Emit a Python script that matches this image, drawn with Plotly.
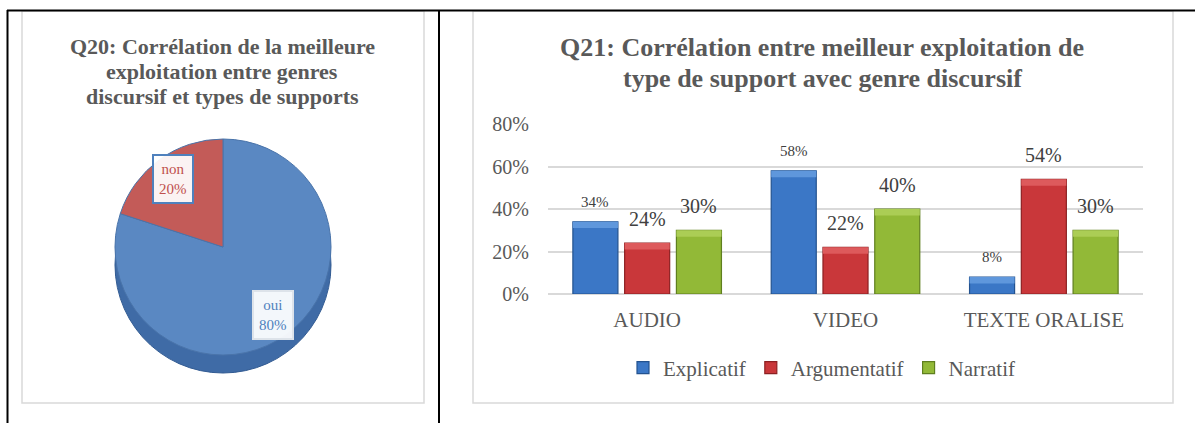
import math
import plotly.graph_objects as go

# ---------------- data ----------------
pie_labels = ["oui", "non"]
pie_values = [80, 20]

categories = ["AUDIO", "VIDEO", "TEXTE ORALISE"]
series_names = ["Explicatif", "Argumentatif", "Narratif"]
explicatif = [0.34, 0.58, 0.08]
argumentatif = [0.24, 0.22, 0.54]
narratif = [0.30, 0.40, 0.30]

y_ticks = [0, 0.2, 0.4, 0.6, 0.8]
y_tick_labels = ["0%", "20%", "40%", "60%", "80%"]

title_left = ["Q20: Corrélation de la meilleure", "exploitation entre genres", "discursif et types de supports"]
title_right = ["Q21: Corrélation entre meilleur exploitation de", "type de support avec genre discursif"]

# ---------------- layout constants ----------------
W, H = 1195, 423
FONT = "Liberation Serif, Times New Roman, serif"
GREY_TXT = "#595959"


def px(x):
    return x / W


def py(y):
    return 1 - y / H


bar_colors = ["#3B77C6", "#C9373A", "#92B937"]
bar_caps = ["#5F97DC", "#DD5A5C", "#ABCD55"]
bar_lines = ["#23528F", "#8C2022", "#5F7F1F"]
label_sizes = [15, 20, 20]
label_shift = [20, 24, 24]

pie_colors = ["#5A88C2", "#C35B58"]
pie_side_colors = ["#3F6BA6", "#9E3F3D"]

fig = go.Figure()

# ---------------- pie (left) ----------------
cx, cy, r, depth = 223, 247, 108, 18
fig.add_trace(go.Pie(
    labels=pie_labels, values=pie_values, sort=False, direction="clockwise",
    rotation=0, textinfo="none", hoverinfo="skip", showlegend=False,
    marker=dict(colors=pie_side_colors, line=dict(color="#335C93", width=1)),
    domain=dict(x=[px(cx - r), px(cx + r)], y=[py(cy + depth + r), py(cy + depth - r)]),
))
fig.add_trace(go.Pie(
    labels=pie_labels, values=pie_values, sort=False, direction="clockwise",
    rotation=0, textinfo="none", showlegend=False,
    marker=dict(colors=pie_colors, line=dict(color="#4A74AA", width=1)),
    domain=dict(x=[px(cx - r), px(cx + r)], y=[py(cy + r), py(cy - r)]),
))

annotations = []
# pie labels at mid-angle of each slice
total = sum(pie_values)
start = 0.0
pie_txt_colors = ["#4F81BD", "#C0504D"]
pie_box_borders = ["#DDE3EA", "#4F81BD"]
for lab, val, tc, bc in zip(pie_labels, pie_values, pie_txt_colors, pie_box_borders):
    mid = (start + val / 2) / total * 2 * math.pi
    start += val
    lx = cx + 0.78 * r * math.sin(mid)
    ly = cy - 0.78 * r * math.cos(mid)
    annotations.append(dict(
        x=px(lx), y=py(ly), xref="paper", yref="paper", showarrow=False,
        xanchor="center", yanchor="middle",
        text=f"{lab}<br>{round(val / total * 100)}%",
        font=dict(family=FONT, size=15, color=tc),
        bgcolor="rgba(255,255,255,0.93)", bordercolor=bc, borderwidth=2, borderpad=5,
    ))

# ---------------- bars (right) ----------------
x0, x1 = 548, 1143
y0, y1 = 294, 124
bargap = 0.217
bargroupgap = 0.13
cap = 0.03

all_series = [explicatif, argumentatif, narratif]
for i, (name, vals, col, lc) in enumerate(zip(series_names, all_series, bar_colors, bar_lines)):
    fig.add_trace(go.Bar(
        x=categories, y=vals, name=name, offsetgroup=str(i),
        marker=dict(color=col, line=dict(color=lc, width=1.2)),
        xaxis="x", yaxis="y", hoverinfo="name+y",
    ))
# lighter top bevel on each bar
for i, (name, vals, cc) in enumerate(zip(series_names, all_series, bar_caps)):
    fig.add_trace(go.Bar(
        x=categories, y=[cap] * len(vals), base=[v - cap for v in vals], name=name,
        offsetgroup=str(i), showlegend=False, hoverinfo="skip",
        marker=dict(color=cc, line=dict(width=0)),
        xaxis="x", yaxis="y",
    ))

cat_px = (x1 - x0) / len(categories)
slot_px = cat_px * (1 - bargap) / len(series_names)
for si, vals in enumerate(all_series):
    offset = (si - (len(series_names) - 1) / 2) * slot_px
    for cat, v in zip(categories, vals):
        annotations.append(dict(
            x=cat, y=v, xref="x", yref="y", showarrow=False,
            xanchor="center", yanchor="middle",
            text=f"{round(v * 100)}%", xshift=offset, yshift=label_shift[si],
            font=dict(family=FONT, size=label_sizes[si], color="#404040"),
        ))

# ---------------- titles (one annotation per line) ----------------
for k, line in enumerate(title_left):
    annotations.append(dict(
        x=px(222), y=py(46 + 25 * k), xref="paper", yref="paper", showarrow=False,
        xanchor="center", yanchor="middle", text=f"<b>{line}</b>",
        font=dict(family=FONT, size=22, color=GREY_TXT),
    ))
for k, line in enumerate(title_right):
    annotations.append(dict(
        x=px(822), y=py(48 + 30 * k), xref="paper", yref="paper", showarrow=False,
        xanchor="center", yanchor="middle", text=f"<b>{line}</b>",
        font=dict(family=FONT, size=26, color=GREY_TXT),
    ))

# ---------------- frames ----------------
shapes = [
    dict(type="rect", xref="paper", yref="paper", x0=px(22), x1=px(424), y0=py(403), y1=py(11),
         line=dict(color="#D9D9D9", width=1.5), layer="below"),
    dict(type="rect", xref="paper", yref="paper", x0=px(473), x1=px(1173), y0=py(403), y1=py(11),
         line=dict(color="#D9D9D9", width=1.5), layer="below"),
    dict(type="line", xref="paper", yref="paper", x0=px(7), x1=px(1195), y0=py(10.5), y1=py(10.5),
         line=dict(color="black", width=2)),
    dict(type="line", xref="paper", yref="paper", x0=px(7.5), x1=px(7.5), y0=py(10), y1=py(423),
         line=dict(color="black", width=2)),
    dict(type="line", xref="paper", yref="paper", x0=px(439), x1=px(439), y0=py(10), y1=py(423),
         line=dict(color="black", width=2)),
]

fig.update_layout(
    width=W, height=H, margin=dict(l=0, r=0, t=0, b=0, pad=0, autoexpand=False),
    paper_bgcolor="white", plot_bgcolor="white",
    barmode="group", bargap=bargap, bargroupgap=bargroupgap,
    font=dict(family=FONT, color=GREY_TXT),
    xaxis=dict(domain=[px(x0), px(x1)], showgrid=False, showline=False, zeroline=False,
               ticks="", tickfont=dict(size=21, color=GREY_TXT), ticklabelstandoff=11,
               anchor="y", fixedrange=True, automargin=False),
    yaxis=dict(domain=[py(y0), py(y1)], range=[0, 0.8], tickvals=y_ticks, ticktext=y_tick_labels,
               showgrid=True, gridcolor="#D9D9D9", gridwidth=1.5, zeroline=True,
               zerolinecolor="#D9D9D9", zerolinewidth=1.5, showline=False, ticks="",
               tickfont=dict(size=20, color=GREY_TXT), ticklabelstandoff=18,
               anchor="x", fixedrange=True, automargin=False),
    legend=dict(orientation="h", x=px(822), xanchor="center", y=py(368), yanchor="middle",
                font=dict(family=FONT, size=21, color=GREY_TXT), itemwidth=30,
                bgcolor="rgba(0,0,0,0)", traceorder="normal"),
    annotations=annotations,
    shapes=shapes,
    showlegend=True,
)

fig.write_html("out.html", config={"displayModeBar": False},
               post_script="document.body.style.margin='0';document.body.style.overflow='hidden';")
